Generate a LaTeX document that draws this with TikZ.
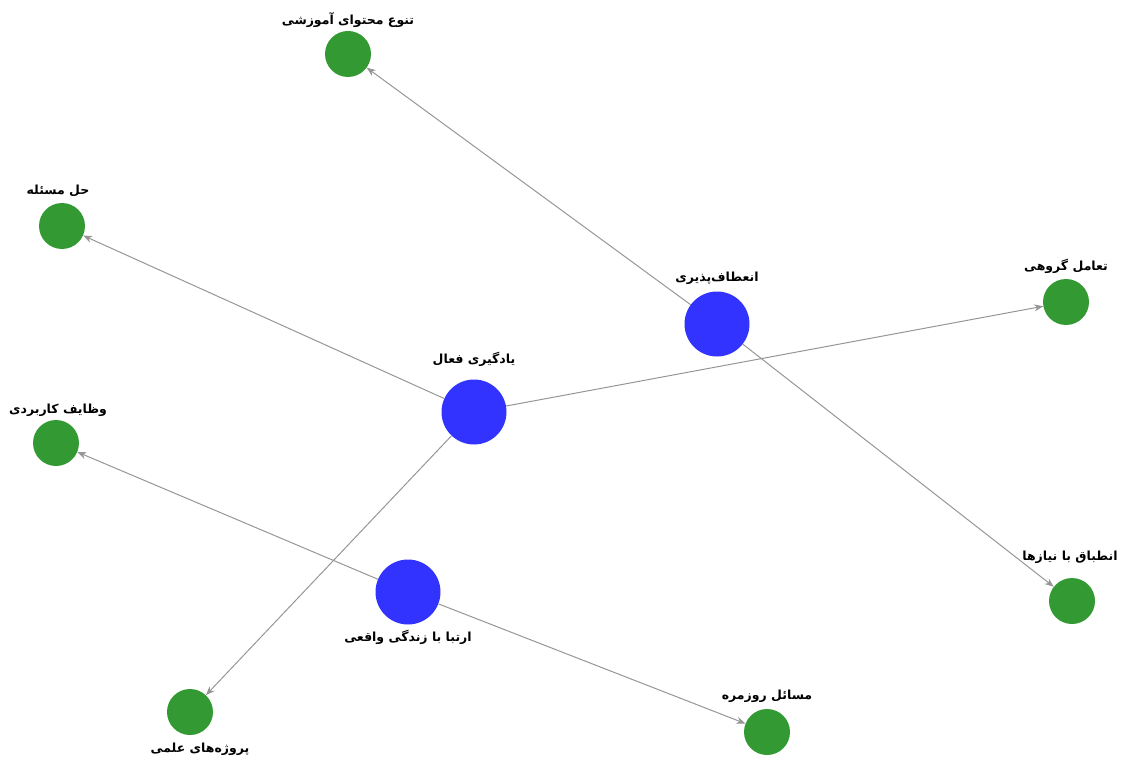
\documentclass[tikz,border=0pt]{standalone}
\usepackage{fontspec}
\usetikzlibrary{arrows.meta}
\TeXXeTstate=1
\newfontfamily\arabicfont[Script=Arabic]{DejaVu Sans}
\definecolor{nodeblue}{RGB}{51,51,255}
\definecolor{nodegreen}{RGB}{51,153,51}
\definecolor{edgegray}{RGB}{150,150,150}
\tikzset{
  hub/.style={circle, fill=nodeblue, draw=none, minimum size=65pt, inner sep=0pt},
  leaf/.style={circle, fill=nodegreen, draw=none, minimum size=46pt, inner sep=0pt},
  lbl/.style={font=\arabicfont\bfseries\fontsize{12.5}{14}\selectfont, inner sep=0pt},
  link/.style={draw=edgegray, line width=1pt, -{Stealth[length=9pt,width=7pt]}}
}
\newcommand{\fa}[1]{\beginR #1\endR}
\begin{document}
\begin{tikzpicture}[x=1pt,y=-1pt]
\useasboundingbox (0,0) rectangle (1122,762);
% nodes
\node[hub]  (flex) at (717,324) {};
\node[hub]  (act)  at (474,412) {};
\node[hub]  (real) at (408,592) {};
\node[leaf] (var)  at (348,54) {};
\node[leaf] (prob) at (62,226) {};
\node[leaf] (grp)  at (1066,302) {};
\node[leaf] (task) at (56,443) {};
\node[leaf] (need) at (1072,601) {};
\node[leaf] (daily) at (767,732) {};
\node[leaf] (sci)  at (190,712) {};
% labels
\node[lbl] (lvar)  at (348,20)  {\fa{تنوع محتوای آموزشی}};
\node[lbl] (lprob) at (58,191)  {\fa{حل مسئله}};
\node[lbl] (lflex) at (717,278) {\fa{انعطاف‌پذیری}};
\node[lbl] (lgrp)  at (1066,266) {\fa{تعامل گروهی}};
\node[lbl] (lact)  at (474,359) {\fa{یادگیری فعال}};
\node[lbl] (ltask) at (58,410)  {\fa{وظایف کاربردی}};
\node[lbl] (lreal) at (408,637) {\fa{ارتبا با زندگی واقعی}};
\node[lbl] (lneed) at (1070,557) {\fa{انطباق با نیازها}};
\node[lbl] (ldaily) at (767,696) {\fa{مسائل روزمره}};
\node[lbl] (lsci)  at (200,749) {\fa{پروژه‌های علمی}};
% edges
\draw[link] (flex) -- (var);
\draw[link] (flex) -- (need);
\draw[link] (act) -- (prob);
\draw[link] (act) -- (grp);
\draw[link] (act) -- (sci);
\draw[link] (real) -- (task);
\draw[link] (real) -- (daily);
\end{tikzpicture}
\end{document}
